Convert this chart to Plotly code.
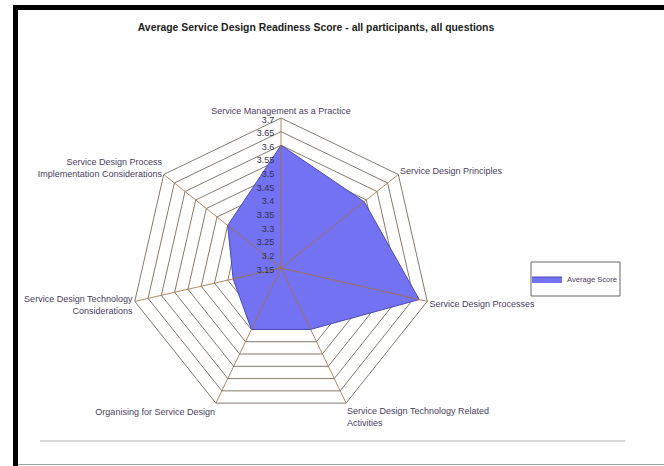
import plotly.graph_objects as go

# Readiness areas (clockwise from the top) and their average scores
categories = [
    "Service Management as a Practice",
    "Service Design Principles",
    "Service Design Processes",
    "Service Design Technology Related<br>Activities",
    "Organising for Service Design",
    "Service Design Technology<br>Considerations",
    "Service Design Process<br>Implementation Considerations",
]
average_score = [3.60, 3.54, 3.67, 3.40, 3.40, 3.33, 3.40]

series_name = "Average Score"
title_text = "Average Service Design Readiness Score - all participants, all questions"

r_min, r_max, r_step = 3.15, 3.7, 0.05

FONT = "Liberation Sans Narrow, Arial Narrow, Liberation Sans, Arial, sans-serif"
W, H = 664, 466

fig = go.Figure()

# filled score polygon (closed)
fig.add_trace(go.Scatterpolar(
    r=average_score + average_score[:1],
    theta=categories + categories[:1],
    mode="lines",
    fill="toself",
    fillcolor="#7272F2",
    line=dict(color="#4b4bb5", width=1),
    name=series_name,
    hoverinfo="skip",
))

# spokes drawn on top of the fill
for cat in categories:
    fig.add_trace(go.Scatterpolar(
        r=[r_min, r_max],
        theta=[cat, cat],
        mode="lines",
        line=dict(color="rgba(168,112,64,0.85)", width=1),
        showlegend=False,
        hoverinfo="skip",
    ))

# polar placement: centre and radius in pixels
cx, cy, R = 281, 268, 150

# legend frame in pixels
lx0, lx1, ly0, ly1 = 531, 620, 262, 296

fig.update_layout(
    width=W, height=H,
    margin=dict(l=0, r=0, t=0, b=0),
    paper_bgcolor="white",
    plot_bgcolor="white",
    font=dict(family=FONT, size=9, color="#4a4060"),
    title=dict(
        text=title_text,
        x=316 / W, xanchor="center",
        y=1 - 27 / H, yanchor="middle",
        font=dict(family=FONT, size=10.4, color="#222222", weight="bold"),
    ),
    polar=dict(
        domain=dict(x=[(cx - R) / W, (cx + R) / W],
                    y=[1 - (cy + R) / H, 1 - (cy - R) / H]),
        gridshape="linear",
        bgcolor="white",
        angularaxis=dict(
            categoryorder="array",
            categoryarray=categories,
            rotation=90,
            direction="clockwise",
            showgrid=False,
            showline=True,
            linecolor="#857a6e",
            linewidth=1,
            ticks="",
            tickfont=dict(family=FONT, size=9, color="#4a4060"),
        ),
        radialaxis=dict(
            range=[r_min, r_max],
            tick0=r_min,
            dtick=r_step,
            angle=90,
            side="counterclockwise",
            showline=False,
            ticks="",
            gridcolor="#857a6e",
            gridwidth=1,
            tickfont=dict(family=FONT, size=9, color="#33334d"),
            layer="above traces",
        ),
    ),
    legend=dict(
        x=(lx0 - 4) / W, xanchor="left",
        y=1 - (ly0 + ly1) / 2 / H, yanchor="middle",
        borderwidth=0,
        bgcolor="rgba(0,0,0,0)",
        font=dict(family=FONT, size=7.6, color="#4a4060"),
        itemwidth=30,
    ),
    showlegend=True,
    shapes=[
        # legend frame
        dict(type="rect", xref="paper", yref="paper",
             x0=lx0 / W, x1=lx1 / W, y0=1 - ly1 / H, y1=1 - ly0 / H,
             line=dict(color="#666666", width=1), fillcolor="white",
             layer="below"),
        # black frame along the top and left edges
        dict(type="rect", xref="paper", yref="paper",
             x0=15.5 / W, x1=1.05, y0=-0.05, y1=1 - 7.5 / H,
             line=dict(color="black", width=5), fillcolor="rgba(0,0,0,0)",
             layer="above"),
        # thin grey rule under the chart
        dict(type="line", xref="paper", yref="paper",
             x0=40 / W, x1=625 / W, y0=1 - 441 / H, y1=1 - 441 / H,
             line=dict(color="#b0b0b0", width=1)),
        # grey bottom edge
        dict(type="line", xref="paper", yref="paper",
             x0=18 / W, x1=1, y0=1 - 464.5 / H, y1=1 - 464.5 / H,
             line=dict(color="#a0a0a0", width=1)),
    ],
)

fig.write_html("out.html")
